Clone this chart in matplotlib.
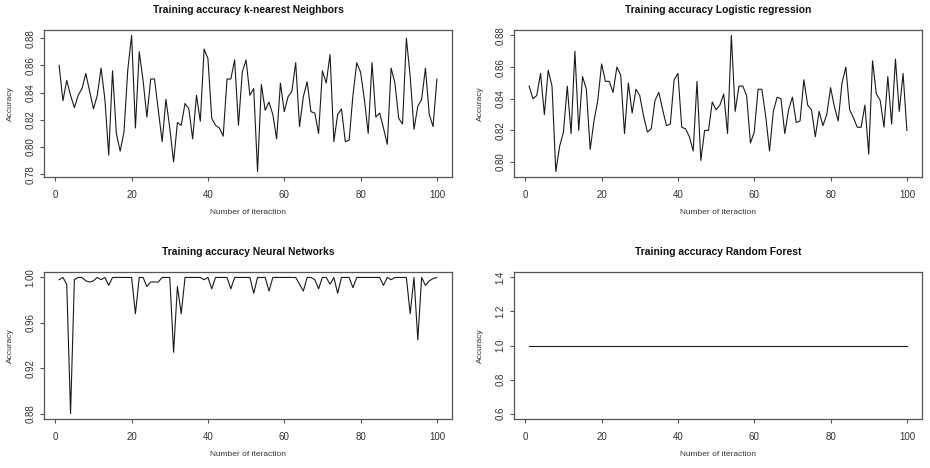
import matplotlib.pyplot as plt
import numpy as np

iterations = np.arange(1, 101)

knn_acc = [0.860, 0.834, 0.849, 0.838, 0.829, 0.838, 0.843, 0.854, 0.841, 0.828,
           0.838, 0.858, 0.835, 0.794, 0.856, 0.810, 0.797, 0.811, 0.857, 0.882,
           0.814, 0.870, 0.849, 0.822, 0.850, 0.850, 0.827, 0.804, 0.835, 0.814,
           0.789, 0.818, 0.816, 0.832, 0.828, 0.806, 0.838, 0.819, 0.872, 0.865,
           0.821, 0.816, 0.814, 0.808, 0.850, 0.850, 0.864, 0.816, 0.855, 0.864,
           0.838, 0.843, 0.782, 0.846, 0.827, 0.833, 0.824, 0.806, 0.847, 0.826,
           0.837, 0.841, 0.862, 0.815, 0.837, 0.848, 0.826, 0.825, 0.810, 0.856,
           0.847, 0.868, 0.804, 0.824, 0.828, 0.804, 0.805, 0.838, 0.862, 0.855,
           0.835, 0.810, 0.862, 0.822, 0.825, 0.814, 0.802, 0.858, 0.847, 0.821,
           0.817, 0.880, 0.852, 0.813, 0.830, 0.835, 0.858, 0.824, 0.815, 0.850]

logreg_acc = [0.848, 0.840, 0.842, 0.856, 0.830, 0.858, 0.848, 0.794, 0.810, 0.819,
              0.848, 0.818, 0.870, 0.820, 0.854, 0.846, 0.808, 0.826, 0.839, 0.862,
              0.851, 0.851, 0.844, 0.860, 0.855, 0.818, 0.850, 0.831, 0.846, 0.842,
              0.829, 0.819, 0.821, 0.839, 0.844, 0.833, 0.823, 0.824, 0.852, 0.856,
              0.822, 0.821, 0.816, 0.807, 0.851, 0.801, 0.820, 0.820, 0.838, 0.833,
              0.836, 0.843, 0.818, 0.880, 0.832, 0.848, 0.848, 0.842, 0.812, 0.819,
              0.846, 0.846, 0.829, 0.807, 0.832, 0.841, 0.840, 0.818, 0.833, 0.841,
              0.825, 0.826, 0.852, 0.836, 0.833, 0.816, 0.832, 0.823, 0.830, 0.847,
              0.835, 0.826, 0.850, 0.860, 0.833, 0.828, 0.822, 0.822, 0.836, 0.805,
              0.864, 0.843, 0.839, 0.822, 0.854, 0.824, 0.865, 0.832, 0.856, 0.820]

nn_acc = [0.998, 1.000, 0.994, 0.880, 0.998, 1.000, 1.000, 0.997, 0.996, 0.997,
          1.000, 0.998, 1.000, 0.993, 1.000, 1.000, 1.000, 1.000, 1.000, 1.000,
          0.968, 1.000, 1.000, 0.992, 0.996, 0.996, 0.996, 1.000, 1.000, 1.000,
          0.934, 0.992, 0.968, 1.000, 1.000, 1.000, 1.000, 1.000, 0.998, 1.000,
          0.990, 1.000, 1.000, 1.000, 1.000, 0.990, 1.000, 1.000, 1.000, 1.000,
          1.000, 0.986, 1.000, 1.000, 1.000, 0.988, 1.000, 1.000, 1.000, 1.000,
          1.000, 1.000, 1.000, 0.994, 0.988, 1.000, 1.000, 0.998, 0.990, 1.000,
          1.000, 0.994, 1.000, 0.986, 1.000, 1.000, 1.000, 0.991, 1.000, 1.000,
          1.000, 1.000, 1.000, 1.000, 1.000, 0.993, 1.000, 0.998, 1.000, 1.000,
          1.000, 1.000, 0.968, 1.000, 0.945, 1.000, 0.993, 0.997, 0.999, 1.000]

rf_acc = [1.0, 1.0, 1.0, 1.0, 1.0, 1.0, 1.0, 1.0, 1.0, 1.0,
          1.0, 1.0, 1.0, 1.0, 1.0, 1.0, 1.0, 1.0, 1.0, 1.0,
          1.0, 1.0, 1.0, 1.0, 1.0, 1.0, 1.0, 1.0, 1.0, 1.0,
          1.0, 1.0, 1.0, 1.0, 1.0, 1.0, 1.0, 1.0, 1.0, 1.0,
          1.0, 1.0, 1.0, 1.0, 1.0, 1.0, 1.0, 1.0, 1.0, 1.0,
          1.0, 1.0, 1.0, 1.0, 1.0, 1.0, 1.0, 1.0, 1.0, 1.0,
          1.0, 1.0, 1.0, 1.0, 1.0, 1.0, 1.0, 1.0, 1.0, 1.0,
          1.0, 1.0, 1.0, 1.0, 1.0, 1.0, 1.0, 1.0, 1.0, 1.0,
          1.0, 1.0, 1.0, 1.0, 1.0, 1.0, 1.0, 1.0, 1.0, 1.0,
          1.0, 1.0, 1.0, 1.0, 1.0, 1.0, 1.0, 1.0, 1.0, 1.0]

titles = ["Training accuracy k-nearest Neighbors", "Training accuracy Logistic regression",
          "Training accuracy Neural Networks", "Training accuracy Random Forest"]
series = [knn_acc, logreg_acc, nn_acc, rf_acc]
yticks = [[0.78, 0.80, 0.82, 0.84, 0.86, 0.88],
          [0.80, 0.82, 0.84, 0.86, 0.88],
          [0.88, 0.92, 0.96, 1.00],
          [0.6, 0.8, 1.0, 1.2, 1.4]]
ytick_fmt = ["%.2f", "%.2f", "%.2f", "%.1f"]
xticks = [0, 20, 40, 60, 80, 100]

plt.rcParams['font.family'] = ['Liberation Sans', 'DejaVu Sans']
text_col = '#333333'

fig = plt.figure(figsize=(9.3, 4.68), dpi=100)
W, H = 930, 468
# plot boxes in pixels: left, top, width, height
boxes = [(44, 30), (514, 30), (44, 272), (514, 272)]
bw, bh = 408, 147


def r_range(lo, hi):
    # R style 4% padding
    if lo == hi:
        lo, hi = lo - 0.4 * abs(lo), hi + 0.4 * abs(hi)
    pad = 0.04 * (hi - lo)
    return lo - pad, hi + pad


for k in range(4):
    left, top = boxes[k]
    ax = fig.add_axes([left / W, 1 - (top + bh) / H, bw / W, bh / H])
    y = series[k]
    ax.plot(iterations, y, color='#1a1a1a', lw=0.8)
    ax.set_xlim(*r_range(iterations.min(), iterations.max()))
    ax.set_ylim(*r_range(min(y), max(y)))
    ax.set_xticks(xticks)
    ax.set_yticks(yticks[k])
    ax.set_yticklabels([ytick_fmt[k] % v for v in yticks[k]])
    ax.tick_params(axis='both', direction='out', length=3, width=0.8,
                   colors='#555555', labelcolor=text_col, labelsize=7)
    ax.tick_params(axis='x', pad=6)
    ax.tick_params(axis='y', pad=3)
    for lab in ax.get_yticklabels():
        lab.set_rotation(90)
        lab.set_va('center')
    for sp in ax.spines.values():
        sp.set_color('#555555')
        sp.set_linewidth(0.9)
    ax.set_title(titles[k], fontsize=7.4, fontweight='bold', color='#111111',
                 y=1 + 20 / bh, pad=0, va='center')
    ax.set_xlabel("Number of iteraction", fontsize=6, color=text_col)
    ax.xaxis.set_label_coords(0.5, -36 / bh)
    ax.xaxis.label.set_va('center')
    ax.set_ylabel("Accuracy", fontsize=6, color=text_col)
    ax.yaxis.set_label_coords(-34 / bw, 0.5)
    ax.yaxis.label.set_va('center')

plt.savefig("out.png", dpi=100)
